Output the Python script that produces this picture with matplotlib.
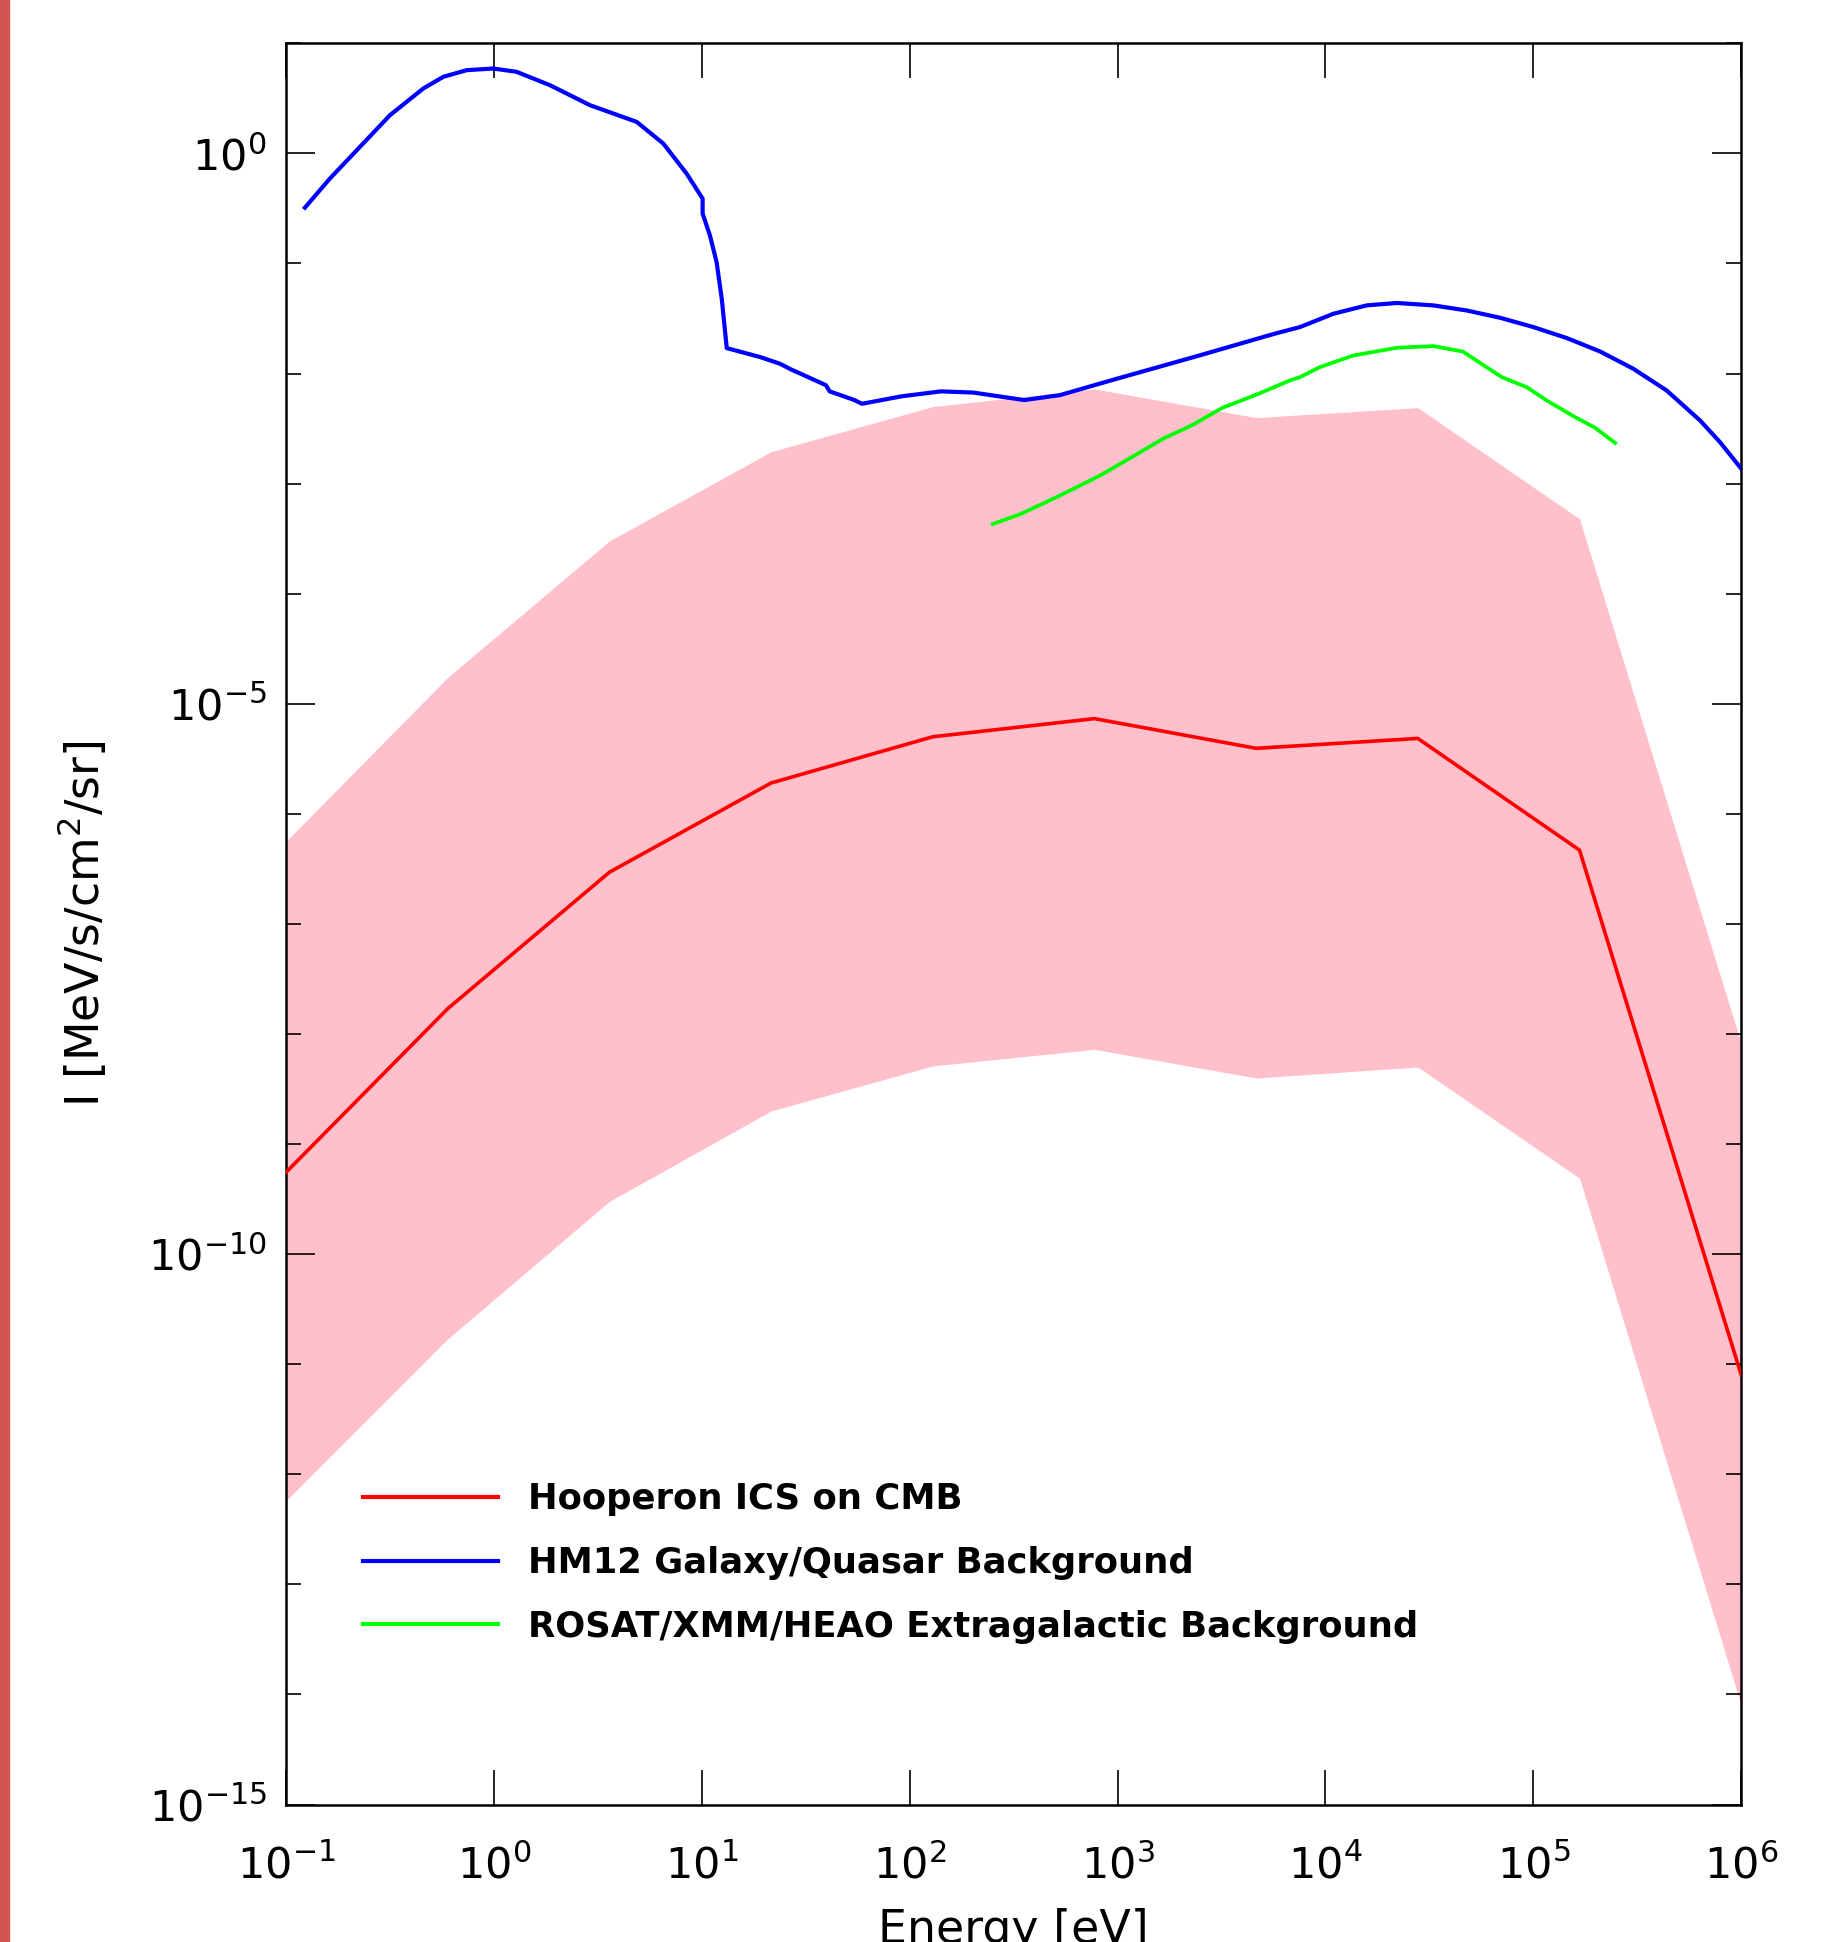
# Hooperon ICS spectrum vs backgrounds

import numpy as np
from matplotlib import pyplot as plt
from matplotlib import ticker
from matplotlib import font_manager
from matplotlib.patches import Rectangle

# Hooperon ICS on CMB (log10 E [eV], log10 I)
logE_ics = [-1.0, -0.222, 0.556, 1.333, 2.111, 2.889, 3.667, 4.444, 5.222, 6.0]
logI_ics = [-9.257, -7.77, -6.53, -5.72, -5.30, -5.135, -5.405, -5.315, -6.33, -11.10]
logI_ics_hi = [-6.25, -4.76, -3.52, -2.71, -2.30, -2.14, -2.40, -2.31, -3.32, -8.09]
logI_ics_lo = [-12.24, -10.77, -9.52, -8.70, -8.29, -8.14, -8.40, -8.30, -9.31, -14.10]

# HM12 galaxy/quasar background
logE_hm12 = [-0.909, -0.789, -0.660, -0.500, -0.340, -0.243, -0.131, -0.003, 0.109, 0.270,
             0.462, 0.687, 0.815, 0.927, 1.004, 1.004, 1.039, 1.071, 1.096, 1.120,
             1.280, 1.376, 1.425, 1.597, 1.615, 1.734, 1.770, 1.961, 2.151, 2.306,
             2.551, 2.723, 2.991, 3.373, 3.754, 3.877, 4.038, 4.198, 4.343, 4.519,
             4.679, 4.839, 5.000, 5.161, 5.321, 5.481, 5.641, 5.802, 5.898, 6.0]
logI_hm12 = [-0.493, -0.229, 0.028, 0.347, 0.589, 0.696, 0.756, 0.771, 0.741, 0.619,
             0.438, 0.286, 0.089, -0.184, -0.411, -0.547, -0.745, -0.986, -1.321, -1.769,
             -1.850, -1.911, -1.959, -2.106, -2.162, -2.241, -2.275, -2.207, -2.162, -2.173,
             -2.241, -2.196, -2.050, -1.847, -1.639, -1.578, -1.457, -1.381, -1.359, -1.381,
             -1.427, -1.493, -1.578, -1.678, -1.800, -1.957, -2.154, -2.427, -2.624, -2.865]

# ROSAT/XMM/HEAO extragalactic background
logE_xrb = [2.400, 2.533, 2.723, 2.914, 3.069, 3.221, 3.355, 3.507, 3.677, 3.831,
            3.877, 3.974, 4.134, 4.343, 4.519, 4.660, 4.848, 4.968, 5.064, 5.192,
            5.297, 5.393]
logI_xrb = [-3.367, -3.277, -3.108, -2.928, -2.759, -2.590, -2.472, -2.309, -2.185, -2.061,
            -2.033, -1.941, -1.836, -1.766, -1.751, -1.800, -2.033, -2.124, -2.245, -2.387,
            -2.493, -2.630]

x_decades = [-1, 0, 1, 2, 3, 4, 5, 6]
y_labeled = [-15, -10, -5, 0]
y_minor = [d for d in range(-15, 2) if d not in y_labeled]

names = {f.name for f in font_manager.fontManager.ttflist}
if 'Liberation Sans Narrow' in names:
    leg_font = dict(family='Liberation Sans Narrow', weight='bold', size=33)
else:
    leg_font = dict(family='DejaVu Sans', weight='bold', size=25.5)

plt.rcParams['font.family'] = 'DejaVu Sans'

fig = plt.figure(figsize=(18.44, 19.42), dpi=100)
fig.patches.append(Rectangle((0, 0), 9/1844., 1, transform=fig.transFigure,
                             color='#d35552', zorder=0))
ax = fig.add_axes([0.1551, 0.0708, 0.7892, 0.9069])

E = 10**np.array(logE_ics)
ax.fill_between(E, 10**np.array(logI_ics_lo), 10**np.array(logI_ics_hi),
                color='pink', lw=0, zorder=1)
ax.plot(E, 10**np.array(logI_ics), color='#ff0000', lw=2.6, zorder=3,
        label='Hooperon ICS on CMB')
ax.plot(10**np.array(logE_hm12), 10**np.array(logI_hm12), color='#0000ff', lw=3.0,
        zorder=3, label='HM12 Galaxy/Quasar Background')
ax.plot(10**np.array(logE_xrb), 10**np.array(logI_xrb), color='#00ff00', lw=2.7,
        zorder=3, label='ROSAT/XMM/HEAO Extragalactic Background')

ax.set_xscale('log')
ax.set_yscale('log')
ax.set_xlim(1e-1, 1e6)
ax.set_ylim(1e-15, 10)

ax.xaxis.set_major_locator(ticker.FixedLocator([10.0**d for d in x_decades]))
ax.xaxis.set_minor_locator(ticker.NullLocator())
ax.yaxis.set_major_locator(ticker.FixedLocator([10.0**d for d in y_labeled]))
ax.yaxis.set_minor_locator(ticker.FixedLocator([10.0**d for d in y_minor]))
ax.yaxis.set_minor_formatter(ticker.NullFormatter())

ax.tick_params(axis='x', which='major', direction='in', top=True, length=25,
               width=1.2, labelsize=31, pad=29)
ax.tick_params(axis='y', which='major', direction='in', right=True, length=21,
               width=1.2, labelsize=31, pad=14)
ax.tick_params(axis='y', which='minor', direction='in', right=True, length=11,
               width=1.2)
for s in ax.spines.values():
    s.set_linewidth(1.8)

ax.set_xlabel('Energy [eV]', fontsize=33, labelpad=15)
ax.set_ylabel('I [MeV/s/cm$^2$/sr]', fontsize=33, labelpad=28)

leg = ax.legend(loc='upper left', bbox_to_anchor=(0.053, 0.183), frameon=False,
                prop=leg_font, handlelength=135/(leg_font['size']*100/72.),
                handletextpad=0.85, labelspacing=0.84, borderpad=0, borderaxespad=0)
for h in leg.get_lines():
    h.set_linewidth(3.0)

plt.savefig('out.png', dpi=100)
